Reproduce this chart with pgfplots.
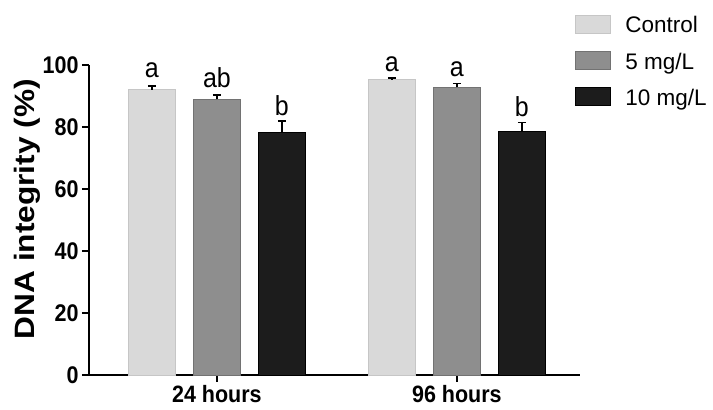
\documentclass[border=0pt]{standalone}
\usepackage{pgfplots}
\pgfplotsset{compat=1.18}
\usepackage{fontspec}
\setmainfont{Liberation Sans}
\definecolor{cctrl}{HTML}{D9D9D9}
\definecolor{cctrle}{HTML}{C6C6C6}
\definecolor{cfive}{HTML}{8E8E8E}
\definecolor{cfivee}{HTML}{727272}
\definecolor{cten}{HTML}{1C1C1C}
\begin{document}
\begin{tikzpicture}
\useasboundingbox (0,0) rectangle (713bp,410bp);
\begin{axis}[
  at={(89bp,35bp)}, anchor=south west,
  scale only axis, width=491bp, height=310bp,
  ybar=18bp, bar width=47bp,
  xmin=-0.533, xmax=1.513, ymin=0, ymax=100,
  xtick={0,1}, xticklabels={\scalebox{1}[1.1]{24 hours}, \scalebox{1}[1.1]{96 hours}},
  ytick={0,20,...,100},
  yticklabel={\scalebox{1}[1.12]{\pgfmathprintnumber{\tick}}},
  axis x line*=bottom, axis y line*=left,
  axis line style={line width=2.5bp, -},
  tick style={black, line width=2bp}, major tick length=7bp, tick align=outside,
  ticklabel style={font=\fontsize{21.5bp}{24bp}\selectfont\bfseries},
  /pgf/number format/assume math mode=true,
  ylabel={\scalebox{1.13}[1]{DNA integrity (\%)}},
  ylabel style={font=\fontsize{28bp}{32bp}\selectfont\bfseries, at={(axis description cs:-0.125,0.535)}, anchor=center},
  legend style={at={(0.984,1.17)}, anchor=north west, draw=none, fill=none,
    font=\fontsize{22.5bp}{26bp}\selectfont, row sep=14.5bp,
    /tikz/every odd column/.append style={column sep=12bp}},
  legend cell align=left,
  clip=false,
  mylegend/.style={legend image code/.code={\draw[##1] (0bp,-8bp) rectangle (35bp,10bp);}},
  error bars/y dir=plus, error bars/y explicit,
  error bars/error bar style={line width=1.5bp, black},
  error bars/error mark options={rotate=90, mark size=4bp, line width=1.5bp, black},
]
\addplot[fill=cctrl, draw=cctrle, line width=1bp, mylegend] coordinates {(0,92.0) +- (0,1.2) (1,95.2) +- (0,0.6)};
\addplot[fill=cfive, draw=cfivee, line width=1bp, mylegend] coordinates {(0,88.9) +- (0,1.5) (1,92.8) +- (0,1.3)};
\addplot[fill=cten, draw=black, line width=1bp, mylegend] coordinates {(0,78.2) +- (0,3.7) (1,78.5) +- (0,3.0)};
\legend{Control, 5 mg/L, 10 mg/L}
\begin{scope}[every node/.style={font=\fontsize{25bp}{28bp}\selectfont, anchor=south, inner sep=0.5bp}]
\node at (axis cs:-0.271,95.5) {\scalebox{1}[1.1]{a}};
\node at (axis cs:0,92.5) {\scalebox{1}[1.1]{ab}};
\node at (axis cs:0.271,83.5) {\scalebox{1}[1.1]{b}};
\node at (axis cs:0.729,97.5) {\scalebox{1}[1.1]{a}};
\node at (axis cs:1,96.0) {\scalebox{1}[1.1]{a}};
\node at (axis cs:1.271,83.2) {\scalebox{1}[1.1]{b}};
\end{scope}
\end{axis}
\end{tikzpicture}
\end{document}
